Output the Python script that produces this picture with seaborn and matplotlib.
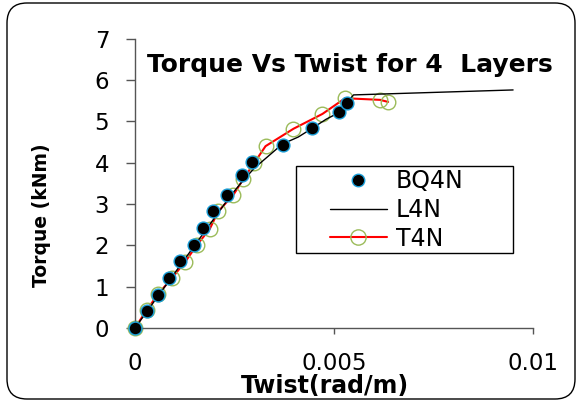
import matplotlib
matplotlib.use("Agg")
import matplotlib.pyplot as plt
from matplotlib.patches import FancyBboxPatch, Rectangle
from matplotlib.lines import Line2D
import seaborn as sns
import pandas as pd

# data
bq_twist = [0, 0.00031, 0.00059, 0.00086, 0.00113, 0.00149, 0.00172, 0.00197, 0.0023, 0.00268, 0.00293, 0.00371, 0.00444, 0.00513, 0.00532]
bq_torque = [0, 0.41, 0.81, 1.22, 1.62, 2.02, 2.41, 2.82, 3.22, 3.7, 4.02, 4.43, 4.85, 5.23, 5.45]

l_twist = [0, 0.0003, 0.0006, 0.0009, 0.0012, 0.0015, 0.0018, 0.0021, 0.0024, 0.0027, 0.003, 0.0034, 0.0037, 0.0041, 0.0044, 0.0048, 0.0051, 0.00549, 0.0095]
l_torque = [0, 0.4, 0.8, 1.2, 1.6, 2.0, 2.4, 2.8, 3.2, 3.55, 3.87, 4.2, 4.45, 4.62, 4.8, 5.05, 5.2, 5.64, 5.76]

t_twist = [0, 0.00029, 0.00059, 0.00092, 0.00126, 0.00155, 0.00188, 0.00209, 0.00247, 0.00272, 0.003, 0.00328, 0.00398, 0.00471, 0.00528, 0.00616, 0.00636]
t_torque = [0, 0.43, 0.83, 1.2, 1.6, 2.0, 2.4, 2.82, 3.22, 3.6, 4.0, 4.4, 4.82, 5.18, 5.56, 5.52, 5.47]

x_ticks = [0, 0.005, 0.01]
x_ticklabels = ["0", "0.005", "0.01"]
y_ticks = [0, 1, 2, 3, 4, 5, 6, 7]

bq = pd.DataFrame({'Twist': bq_twist, 'Torque': bq_torque})
l4 = pd.DataFrame({'Twist': l_twist, 'Torque': l_torque})
t4 = pd.DataFrame({'Twist': t_twist, 'Torque': t_torque})

sns.set_style("white")
plt.rcParams['font.family'] = ['DejaVu Sans']
plt.rcParams['text.color'] = 'black'
plt.rcParams['axes.labelcolor'] = 'black'
plt.rcParams['xtick.color'] = 'black'
plt.rcParams['ytick.color'] = 'black'

blue_edge = '#1a9fd9'
green = '#9bbb59'

fig = plt.figure(figsize=(5.76, 4.01), dpi=100)
ax = fig.add_axes([135/576, 1-328/401, 398/576, 289.3/401])

sns.lineplot(data=t4, x='Twist', y='Torque', sort=False, ax=ax, color='red', lw=1.5,
             marker='o', markersize=10.5, markerfacecolor='none', markeredgecolor=green,
             markeredgewidth=1, clip_on=False, zorder=2)
sns.lineplot(data=l4, x='Twist', y='Torque', sort=False, ax=ax, color='black', lw=1,
             zorder=3)
sns.scatterplot(data=bq, x='Twist', y='Torque', ax=ax, color='black', s=85,
                edgecolor=blue_edge, linewidth=1, clip_on=False, zorder=4)

ax.set_xlim(0, 0.01)
ax.set_ylim(0, 7)
ax.set_xticks(x_ticks)
ax.set_xticklabels(x_ticklabels)
ax.set_yticks(y_ticks)
for s in ['top', 'right']:
    ax.spines[s].set_visible(False)
for s in ['left', 'bottom']:
    ax.spines[s].set_color('#555555')
    ax.spines[s].set_linewidth(1)
ax.tick_params(axis='y', direction='out', length=6.5, width=1, color='#555555',
               labelcolor='black', pad=12, labelsize=16.5, left=True)
ax.tick_params(axis='x', direction='out', length=4, width=1, color='#555555',
               labelcolor='black', pad=13, labelsize=16.5, bottom=True)

ax.set_xlabel('Twist(rad/m)', fontsize=17, fontweight='bold')
ax.set_ylabel('Torque (kNm)', fontsize=13.5, fontweight='bold')
ax.xaxis.set_label_coords(0.477, -0.16)
ax.yaxis.set_label_coords(-0.236, 0.39)
ax.yaxis.label.set_verticalalignment('center')

ax.text(0.03, 0.909, 'Torque Vs Twist for 4  Layers', transform=ax.transAxes,
        ha='left', va='center', fontsize=18, fontweight='bold')

# legend frame drawn at its own place, under the legend entries
frame = Rectangle((296/576, 1-253/401), 217/576, 87/401, transform=fig.transFigure,
                  fill=True, facecolor='white', edgecolor='black', lw=1, zorder=4.5,
                  clip_on=False)
ax.add_patch(frame)

handles = [
    Line2D([], [], ls='none', marker='o', markersize=9, markerfacecolor='black',
           markeredgecolor=blue_edge),
    Line2D([], [], color='black', lw=1),
    Line2D([], [], color='red', lw=1.5, marker='o', markersize=11,
           markerfacecolor='none', markeredgecolor=green),
]
leg = ax.legend(handles, ['BQ4N', 'L4N', 'T4N'], loc='center left',
                bbox_to_anchor=(330/576, 1-210/401), bbox_transform=fig.transFigure,
                borderaxespad=0, borderpad=0, fontsize=17, frameon=False,
                handlelength=2.4, handletextpad=0.4, labelspacing=0.2)
leg.set_zorder(6)

# rounded border round the whole chart
border = FancyBboxPatch((0.07, 0.02), 5.68, 3.96, boxstyle='round,pad=0,rounding_size=0.2',
                        transform=fig.dpi_scale_trans, fill=False, edgecolor='black', lw=1)
fig.patches.append(border)

fig.savefig('out.png', dpi=100)
